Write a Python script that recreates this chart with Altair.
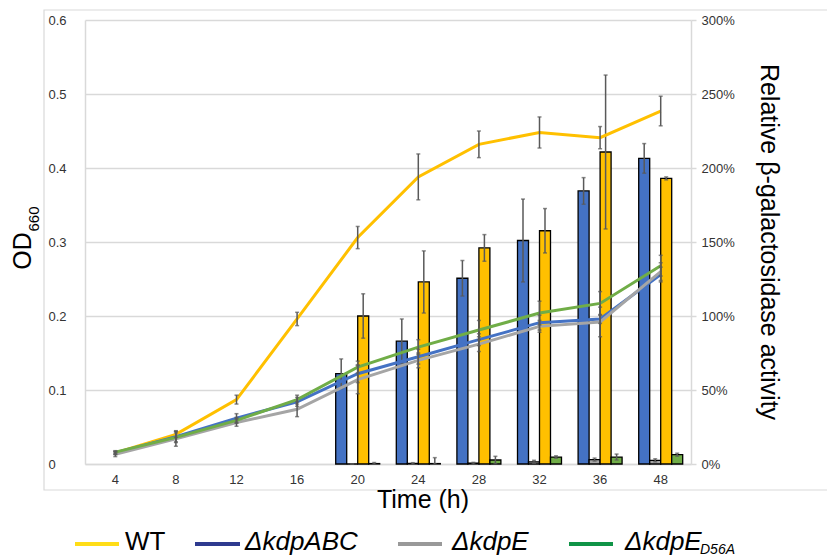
import altair as alt
import pandas as pd

# ---------------- data ----------------
times = ["4", "8", "12", "16", "20", "24", "28", "32", "36", "48"]
line_keys = ["WT", "ABC", "E", "D56A"]

od_wt   = [0.015, 0.040, 0.087, 0.196, 0.306, 0.388, 0.432, 0.448, 0.441, 0.477]
od_abc  = [0.015, 0.037, 0.062, 0.084, 0.122, 0.145, 0.168, 0.191, 0.196, 0.256]
od_e    = [0.013, 0.034, 0.056, 0.074, 0.114, 0.140, 0.162, 0.186, 0.192, 0.260]
od_d56a = [0.016, 0.036, 0.059, 0.087, 0.131, 0.158, 0.181, 0.204, 0.217, 0.268]

od_err_wt   = [0.002, 0.004, 0.006, 0.009, 0.015, 0.031, 0.018, 0.021, 0.015, 0.020]
od_err_abc  = [0.002, 0.008, 0.006, 0.006, 0.012, 0.010, 0.008, 0.010, 0.006, 0.010]
od_err_e    = [0.003, 0.010, 0.005, 0.010, 0.019, 0.010, 0.010, 0.008, 0.020, 0.012]
od_err_d56a = [0.002, 0.006, 0.004, 0.006, 0.008, 0.010, 0.013, 0.016, 0.016, 0.014]

bar_times = ["20", "24", "28", "32", "36", "48"]
bar_keys = ["ABC", "E", "WT", "D56A"]          # order of bars inside each group
act_abc  = [61.0, 83.0, 125.5, 151.0, 184.5, 206.5]
act_e    = [0.0, 0.4, 0.6, 1.5, 3.0, 2.5]
act_wt   = [100.0, 123.0, 146.0, 157.6, 210.8, 193.0]
act_d56a = [0.3, 0.3, 2.7, 4.7, 4.7, 6.3]
act_err_abc  = [10.0, 15.0, 12.0, 28.0, 9.0, 10.0]
act_err_e    = [0.0, 0.5, 0.5, 1.0, 1.0, 1.0]
act_err_wt   = [15.0, 21.0, 9.0, 15.0, 52.0, 1.0]
act_err_d56a = [0.7, 4.0, 2.5, 0.8, 2.0, 1.0]

od_ticks = [0, 0.1, 0.2, 0.3, 0.4, 0.5, 0.6]
act_ticks = [0, 50, 100, 150, 200, 250, 300]

series_colors = ["#FFC000", "#4472C4", "#A5A5A5", "#70AD47"]   # WT, ABC, E, D56A
legend_colors = ["#FFDD17", "#2E3A8F", "#999999", "#109447"]

# ---------------- tables ----------------
line_df = pd.DataFrame({
    "time": times * 4,
    "strain": sum([[k] * len(times) for k in line_keys], []),
    "od": od_wt + od_abc + od_e + od_d56a,
    "err": od_err_wt + od_err_abc + od_err_e + od_err_d56a,
})
line_df["lo"] = (line_df["od"] - line_df["err"]).clip(lower=0)
line_df["hi"] = line_df["od"] + line_df["err"]

bar_df = pd.DataFrame({
    "time": bar_times * 4,
    "strain": sum([[k] * len(bar_times) for k in ["ABC", "E", "WT", "D56A"]], []),
    "act": act_abc + act_e + act_wt + act_d56a,
    "err": act_err_abc + act_err_e + act_err_wt + act_err_d56a,
})
bar_df["lo"] = (bar_df["act"] - bar_df["err"]).clip(lower=0)
bar_df["hi"] = bar_df["act"] + bar_df["err"]

FONT = "Liberation Sans"
GRID = "#D9D9D9"
ERR = "#595959"
W, H = 606, 444

x_enc = alt.X(
    "time:N",
    scale=alt.Scale(domain=times, paddingInner=0, paddingOuter=0),
    axis=alt.Axis(title=None, labelAngle=0, labelFont=FONT, labelFontSize=13,
                  labelColor="#333333", ticks=False, labelPadding=9,
                  domainColor=GRID, domainWidth=1.5, grid=False),
)
xoff = alt.XOffset("strain:N", scale=alt.Scale(domain=bar_keys, paddingInner=0, paddingOuter=0.755))
color_enc = alt.Color("strain:N", scale=alt.Scale(domain=line_keys, range=series_colors), legend=None)

right_axis = alt.Axis(orient="right", title=None, values=act_ticks,
                      labelExpr="datum.value + '%'", labelFont=FONT, labelFontSize=13,
                      labelColor="#333333", ticks=True, tickSize=5, tickColor=GRID,
                      tickWidth=1.5, labelPadding=5, domainColor=GRID, domainWidth=1.5,
                      grid=False)
left_axis = alt.Axis(orient="left", title=None, values=od_ticks, format=".1~f",
                     labelFont=FONT, labelFontSize=13, labelColor="#333333",
                     ticks=False, tickSize=0, labelAlign="left", labelPadding=37,
                     domainColor=GRID, domainWidth=1.5, grid=True, gridColor=GRID,
                     gridWidth=1.3)
act_scale = alt.Scale(domain=[0, 300], nice=False)
od_scale = alt.Scale(domain=[0, 0.6], nice=False)

# ---------------- bars (right axis) ----------------
bars = alt.Chart(bar_df).mark_bar(stroke="black", strokeWidth=1.3).encode(
    x=x_enc, xOffset=xoff,
    y=alt.Y("act:Q", scale=act_scale, axis=right_axis),
    color=color_enc,
)
bar_err = alt.Chart(bar_df).mark_rule(color=ERR, strokeWidth=1.5).encode(
    x=x_enc, xOffset=xoff,
    y=alt.Y("lo:Q", scale=act_scale, axis=right_axis), y2="hi:Q",
)
bar_cap_lo = alt.Chart(bar_df).mark_tick(color=ERR, size=4, thickness=1.5).encode(
    x=x_enc, xOffset=xoff, y=alt.Y("lo:Q", scale=act_scale, axis=right_axis))
bar_cap_hi = alt.Chart(bar_df).mark_tick(color=ERR, size=4, thickness=1.5).encode(
    x=x_enc, xOffset=xoff, y=alt.Y("hi:Q", scale=act_scale, axis=right_axis))
bar_group = alt.layer(bars, bar_err, bar_cap_lo, bar_cap_hi)

# ---------------- lines (left axis) ----------------
lines = alt.Chart(line_df).mark_line(strokeWidth=3).encode(
    x=x_enc,
    y=alt.Y("od:Q", scale=od_scale, axis=left_axis),
    color=color_enc,
)
line_err = alt.Chart(line_df).mark_rule(color=ERR, strokeWidth=1.5).encode(
    x=x_enc, y=alt.Y("lo:Q", scale=od_scale, axis=left_axis), y2="hi:Q")
line_cap_lo = alt.Chart(line_df).mark_tick(color=ERR, size=4, thickness=1.5).encode(
    x=x_enc, y=alt.Y("lo:Q", scale=od_scale, axis=left_axis))
line_cap_hi = alt.Chart(line_df).mark_tick(color=ERR, size=4, thickness=1.5).encode(
    x=x_enc, y=alt.Y("hi:Q", scale=od_scale, axis=left_axis))
line_group = alt.layer(lines, line_err, line_cap_lo, line_cap_hi)

# ---------------- decorations ----------------
one = pd.DataFrame({"a": [0]})

frame = alt.Chart(one).mark_rect(fill="white", fillOpacity=0, stroke=GRID, strokeWidth=1.2).encode(
    x=alt.value(-41), x2=alt.value(780), y=alt.value(-10), y2=alt.value(470))


def txt(t, x, y, size, angle=0, italic=False, align="center"):
    kw = dict(text=t, font=FONT, fontSize=size, align=align, baseline="middle", color="black")
    if angle:
        kw["angle"] = angle
    if italic:
        kw["fontStyle"] = "italic"
    return alt.Chart(one).mark_text(**kw).encode(x=alt.value(x), y=alt.value(y))


decor = [
    txt("OD", -62, 231, 25, angle=270),
    txt("660", -51, 199, 15, angle=270),
    txt("Relative β-galactosidase activity", 684, 222, 25, angle=90),
    txt("Time (h)", 338, 480, 25),
]

legend_items = [
    ("WT", False, -10, 34, 40),
    ("ΔkdpABC", True, 110, 155, 160),
    ("ΔkdpE", True, 313, 357, 367),
    ("ΔkdpE", True, 484, 528, 540),
]
for (label, ital, x1, x2, tx), col in zip(legend_items, legend_colors):
    decor.append(alt.Chart(one).mark_rule(color=col, strokeWidth=4).encode(
        x=alt.value(x1), x2=alt.value(x2), y=alt.value(524)))
    decor.append(txt(label, tx, 522, 26, italic=ital, align="left"))
decor.append(txt("D56A", 615, 530, 14, italic=True, align="left"))

chart = alt.layer(frame, bar_group, line_group, *decor).resolve_scale(
    y="independent"
).properties(
    width=W, height=H,
    padding={"left": 77, "top": 12, "right": 136, "bottom": 94},
    autosize=alt.AutoSizeParams(type="none"),
).configure_view(stroke=None)

chart.save("out.html", embed_options={"renderer": "svg", "actions": False})
